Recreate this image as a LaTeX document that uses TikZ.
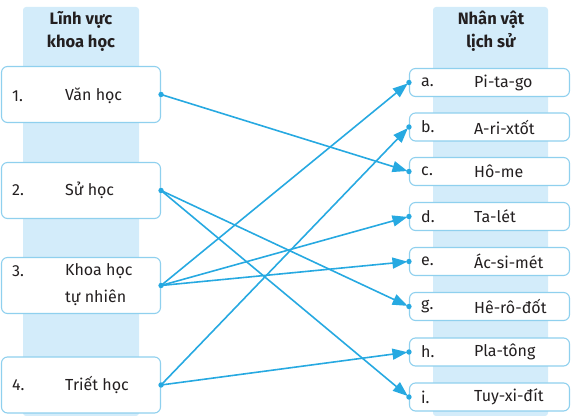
\documentclass[tikz,border=0pt]{standalone}
\usepackage{fontspec}
\setmainfont{Fira Sans}
\usetikzlibrary{arrows.meta}
\definecolor{lineblue}{HTML}{27A9E1}
\definecolor{boxedge}{HTML}{8FD0EE}
\definecolor{colbg}{HTML}{D3ECFA}
\definecolor{txt}{HTML}{231F20}
\tikzset{
  col/.style={fill=colbg, draw=none, rounded corners=3pt},
  lbox/.style={draw=boxedge, line width=1.1pt, fill=white, rounded corners=6pt, minimum width=159pt, minimum height=56pt, inner sep=0pt},
  rbox/.style={draw=boxedge, line width=1.1pt, fill=white, rounded corners=6pt, minimum width=160pt, minimum height=28pt, inner sep=0pt},
  lbl/.style={font=\fontsize{16}{19}\selectfont, text=txt, inner sep=0pt, anchor=west},
  hdr/.style={font=\fontsize{16.5}{23}\selectfont\bfseries, text=txt, align=center, inner sep=0pt},
  conn/.style={draw=lineblue, line width=1.6pt, -{Triangle[length=15pt,width=11pt]}, shorten >=1.5pt},
  dotc/.style={fill=lineblue}
}
\begin{document}
\begin{tikzpicture}[x=1pt,y=-1pt]
\useasboundingbox (0,0) rectangle (574,419);
% column backgrounds
\fill[col] (23,7) rectangle (139,416);
\fill[col] (433,7) rectangle (548,416);
\node[hdr] (hl) at (81,31.5) {Lĩnh vực\\khoa học};
\node[hdr] (hr) at (491,31.5) {Nhân vật\\lịch sử};
% left boxes
\node[lbox] (L1) at (81,94.5) {};
\node[lbox] (L2) at (81,190.5) {};
\node[lbox] (L3) at (81,285.5) {};
\node[lbox] (L4) at (81,385) {};
\node[lbl] (n1) at (12,96) {1.};
\node[lbl] (t1) at (65,96) {Văn học};
\node[lbl] (n2) at (12,190.5) {2.};
\node[lbl] (t2) at (65,190.5) {Sử học};
\node[lbl] (n3) at (12,271) {3.};
\node[lbl] (t3) at (65,271) {Khoa học};
\node[lbl] (t3b) at (65,298) {tự nhiên};
\node[lbl] (n4) at (12,385) {4.};
\node[lbl] (t4) at (65,385) {Triết học};
% right boxes
\foreach \nm/\yy/\lettr/\pname in {Ra/82.5/a./Pi-ta-go, Rb/127/b./A-ri-xtốt, Rc/171.5/c./Hô-me, Rd/216.5/d./Ta-lét, Re/261.5/e./Ác-si-mét, Rg/306.5/g./Hê-rô-đốt, Rh/352/h./Pla-tông, Ri/397/i./Tuy-xi-đít}{
  \node[rbox] (\nm) at (489.5,\yy) {};
  \node[lbl] (\nm n) at (421,\yy) {\lettr};
  \node[lbl] (\nm t) at (474,\yy) {\pname};
}
% connectors
\draw[conn] (L1.east) -- (Rc.west);
\draw[conn] (L2.east) -- (Rg.west);
\draw[conn] (L2.east) -- (Ri.west);
\draw[conn] (L3.east) -- (Ra.west);
\draw[conn] (L3.east) -- (Rd.west);
\draw[conn] (L3.east) -- (Re.west);
\draw[conn] (L4.east) -- (Rb.west);
\draw[conn] (L4.east) -- (Rh.west);
% dots
\foreach \n in {L1,L2,L3,L4}{\fill[dotc] (\n.east) circle (2.7pt);}
\foreach \n in {Ra,Rb,Rc,Rd,Re,Rg,Rh,Ri}{\fill[dotc] (\n.west) circle (2.7pt);}
\end{tikzpicture}
\end{document}
